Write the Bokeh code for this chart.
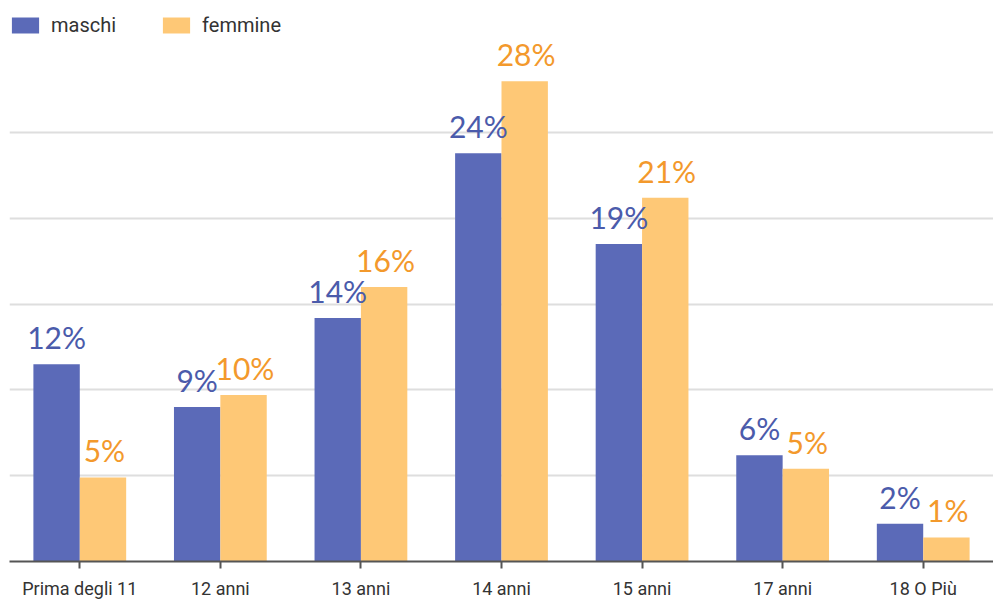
from bokeh.plotting import figure
from bokeh.models import ColumnDataSource, FactorRange, Range1d, FixedTicker, Legend, LegendItem
from bokeh.transform import dodge
from bokeh.core.properties import value
from bokeh.embed import file_html
from bokeh.resources import INLINE

categories = ["Prima degli 11", "12 anni", "13 anni", "14 anni", "15 anni", "17 anni", "18 O Più"]
maschi = [11.5, 9.0, 14.2, 23.8, 18.5, 6.2, 2.2]
femmine = [4.9, 9.7, 16.0, 28.0, 21.2, 5.4, 1.4]
maschi_labels = ["12%", "9%", "14%", "24%", "19%", "6%", "2%"]
femmine_labels = ["5%", "10%", "16%", "28%", "21%", "5%", "1%"]

BLUE = "#5b6ab8"
ORANGE = "#fec876"
BLUE_TXT = "#4b5bab"
ORANGE_TXT = "#f3992c"

src = ColumnDataSource(dict(cat=categories, m=maschi, f=femmine,
                            ml=maschi_labels, fl=femmine_labels))

p = figure(x_range=FactorRange(*categories, range_padding=0),
           y_range=Range1d(0, 32.7),
           width=993, height=601, output_backend="svg", toolbar_location=None,
           min_border_left=9, min_border_right=0, min_border_top=0, min_border_bottom=0)

rm = p.vbar(x=dodge("cat", -0.165, range=p.x_range), top="m", width=0.33, source=src,
            fill_color=BLUE, line_color=None)
rf = p.vbar(x=dodge("cat", 0.165, range=p.x_range), top="f", width=0.33, source=src,
            fill_color=ORANGE, line_color=None)

p.text(x=dodge("cat", -0.165, range=p.x_range), y="m", text="ml", source=src,
       text_align="center", text_baseline="bottom", y_offset=-9,
       text_color=BLUE_TXT, text_font=value("Lato"), text_font_size="30px")
p.text(x=dodge("cat", 0.175, range=p.x_range), y="f", text="fl", source=src,
       text_align="center", text_baseline="bottom", y_offset=-9,
       text_color=ORANGE_TXT, text_font=value("Lato"), text_font_size="30px")

legend = Legend(items=[LegendItem(label="maschi", renderers=[rm]),
                       LegendItem(label="femmine", renderers=[rf])],
                location=(-1, 524), orientation="horizontal",
                glyph_width=34, glyph_height=20, label_text_font_size="20px",
                label_text_color="#333333", label_text_font="Roboto",
                spacing=43, padding=0, margin=0, border_line_color=None,
                background_fill_alpha=0, label_standoff=9)
p.add_layout(legend)

p.yaxis.visible = False
p.ygrid.ticker = FixedTicker(ticks=[5, 10, 15, 20, 25])
p.ygrid.grid_line_color = "#dedede"
p.ygrid.grid_line_width = 2
p.xgrid.grid_line_color = None
p.outline_line_color = None

p.xaxis.axis_line_color = "#555555"
p.xaxis.axis_line_width = 2
p.xaxis.major_tick_line_color = "#555555"
p.xaxis.major_tick_line_width = 2
p.xaxis.major_tick_out = 7
p.xaxis.major_tick_in = 0
p.xaxis.minor_tick_line_color = None
p.xaxis.major_label_text_font = "Roboto"
p.xaxis.major_label_text_font_size = "18px"
p.xaxis.major_label_text_color = "#333333"
p.xaxis.major_label_standoff = 9

open("out.html", "w").write(file_html(p, INLINE))
